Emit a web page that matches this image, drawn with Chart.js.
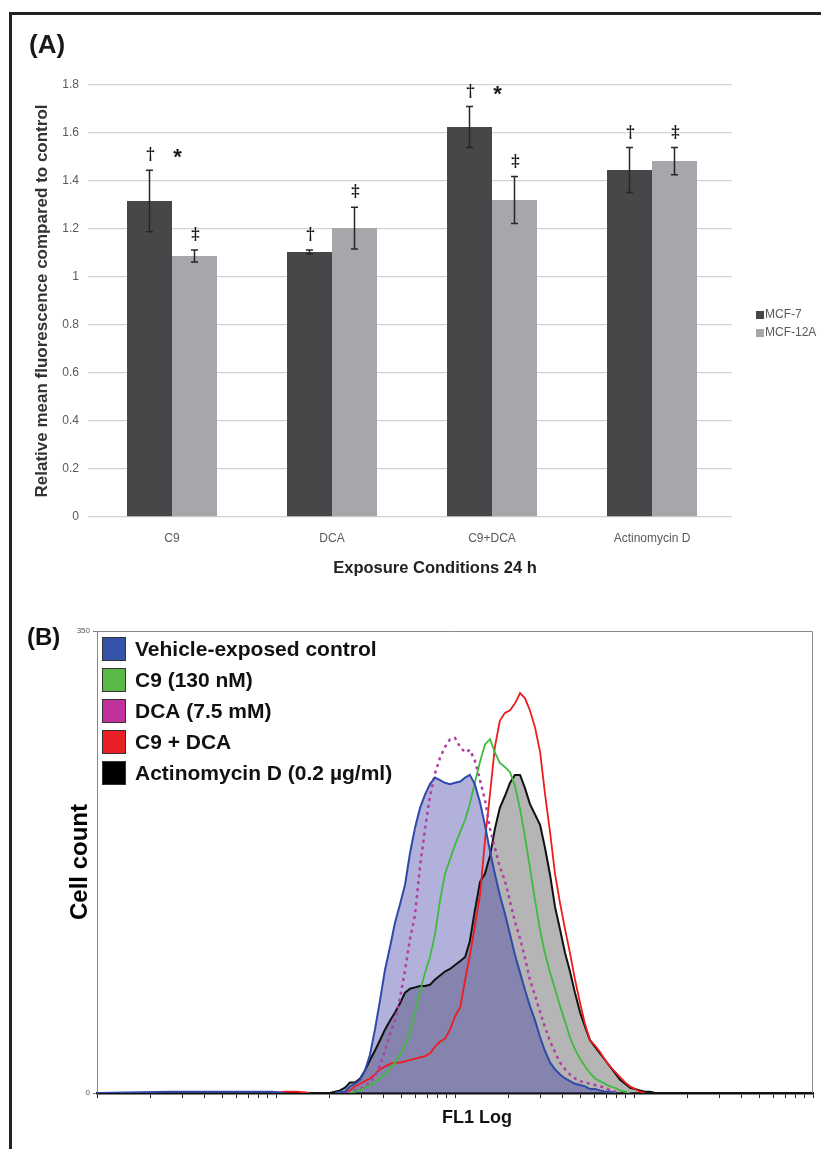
<!DOCTYPE html>
<html>
<head>
<meta charset="utf-8">
<script src="https://cdn.jsdelivr.net/npm/chart.js@4.4.1/dist/chart.umd.min.js"></script>
<style>
    html, body { margin: 0; padding: 0; background: #fff; }
    #page { position: relative; width: 821px; height: 1149px; overflow: hidden; }
    #frame { position: absolute; left: 9px; top: 12px; width: 900px; height: 1200px; border-left: 3px solid #222; border-top: 3px solid #222; }
    #chart-a { position: absolute; left: 0; top: 0; }
    #chart-b { position: absolute; left: 0; top: 600px; }
</style>
</head>
<body>
<div id="page">
    <div id="frame"></div>
    <canvas id="chart-a" width="821" height="600"></canvas>
    <canvas id="chart-b" width="821" height="549"></canvas>
</div>
<script>
// Panel A - relative mean fluorescence after 24 h
const conditions = ['C9', 'DCA', 'C9+DCA', 'Actinomycin D'];
const mcf7 = [1.317, 1.104, 1.625, 1.446];
const mcf7Err = [0.128, 0.008, 0.085, 0.094];
const mcf12a = [1.088, 1.204, 1.321, 1.483];
const mcf12aErr = [0.025, 0.087, 0.098, 0.057];
const mcf7Marks = ['†', '†', '†', '†'];
const mcf12aMarks = ['‡', '‡', '‡', '‡'];
const pairMarks = ['*', '', '*', ''];
const yTicksA = { min: 0, max: 1.8, step: 0.2 };

// Panel B - FL1 histograms (channel value on the log axis, counts per series)
const fl1Channels = [
    1, 2.56, 9.5, 11.2, 13.1, 15.5, 17.6, 20.0, 21.4, 22.8,
    24.3, 25.9, 27.6, 29.5, 31.4, 33.5, 35.7, 38.1, 40.6, 43.4,
    46.2, 49.3, 52.6, 56.1, 59.8, 63.8, 68.0, 72.5, 77.3, 82.5,
    87.9, 93.8, 100, 107, 114, 121, 129, 138, 147, 157,
    167, 178, 190, 203, 216, 231, 246, 262, 280, 299,
    318, 340, 362, 386, 412, 439, 468, 500, 533, 568,
    606, 646, 689, 735, 784, 836, 892, 951, 1014, 1080,
    1152, 1229, 1310, 1398, 2340, 10000
];
const vehicleCounts = [
    0, 1, 1, 0, 0, 0, 0, 0, 0, 1,
    1, 5, 7, 10, 17, 29, 48, 70, 93, 111,
    129, 143, 158, 182, 201, 216, 226, 234, 239, 237,
    235, 234, 235, 236, 239, 241, 234, 220, 203, 183,
    166, 150, 136, 120, 105, 91, 78, 66, 55, 42,
    32, 23, 18, 14, 11, 9, 7, 6, 5, 3,
    3, 2, 1, 1, 0, 0, 0, 0, 0, 0,
    0, 0, 0, 0, 0, 0
];
const c9Counts = [
    0, 0, 0, 0, 0, 0, 0, 0, 0, 0,
    0, 0, 1, 2, 4, 6, 8, 11, 14, 18,
    23, 29, 36, 47, 61, 77, 91, 103, 120, 146,
    166, 177, 188, 198, 207, 219, 235, 251, 264, 268,
    258, 250, 247, 243, 233, 215, 194, 171, 146, 123,
    106, 91, 79, 66, 54, 42, 33, 26, 20, 15,
    11, 9, 7, 5, 4, 2, 1, 0, 0, 0,
    0, 0, 0, 0, 0, 0
];
const dcaCounts = [
    0, 0, 0, 0, 0, 0, 0, 0, 0, 0,
    1, 1, 2, 3, 5, 8, 13, 21, 32, 45,
    55, 72, 93, 117, 135, 172, 200, 225, 242, 254,
    262, 268, 269, 262, 258, 260, 252, 237, 222, 200,
    186, 171, 161, 145, 130, 117, 102, 86, 74, 61,
    50, 39, 31, 23, 18, 14, 11, 9, 8, 7,
    6, 5, 4, 2, 1, 0, 0, 0, 0, 0,
    0, 0, 0, 0, 0, 0
];
const c9DcaCounts = [
    0, 0, 0, 1, 1, 0, 0, 0, 0, 0,
    1, 2, 5, 7, 9, 11, 14, 18, 20, 22,
    23, 23, 24, 25, 26, 27, 28, 30, 35, 39,
    41, 48, 58, 65, 86, 104, 126, 150, 191, 227,
    262, 282, 288, 290, 295, 303, 299, 290, 277, 258,
    227, 197, 166, 144, 124, 106, 86, 68, 52, 40,
    36, 31, 25, 20, 16, 12, 8, 5, 3, 1,
    0, 0, 0, 0, 0, 0
];
const actinomycinCounts = [
    0, 0, 0, 0, 0, 0, 0, 0, 1, 2,
    4, 8, 8, 11, 17, 25, 32, 40, 48, 55,
    61, 68, 76, 79, 80, 81, 81, 82, 86, 89,
    92, 94, 97, 100, 103, 115, 138, 160, 166, 180,
    200, 216, 225, 235, 241, 241, 231, 219, 211, 203,
    186, 165, 141, 124, 106, 92, 76, 61, 50, 40,
    35, 30, 25, 20, 15, 10, 7, 4, 3, 2,
    1, 1, 0, 0, 0, 0
];
const yTicksB = { min: 0, max: 350 };

const FONT = "'Liberation Sans', Arial, sans-serif";
Chart.defaults.font.family = FONT;

// Barras de error y marcas de significancia
const errorBarsPlugin = {
    id: 'errorBars',
    afterDatasetsDraw(chart) {
        const ctx = chart.ctx;
        const y = chart.scales.y;
        const errs = [mcf7Err, mcf12aErr];
        const marks = [mcf7Marks, mcf12aMarks];
        ctx.save();
        ctx.strokeStyle = '#262626';
        ctx.lineWidth = 1.5;
        ctx.fillStyle = '#1a1a1a';
        ctx.textAlign = 'center';
        ctx.textBaseline = 'middle';
        chart.data.datasets.forEach((ds, i) => {
            chart.getDatasetMeta(i).data.forEach((bar, j) => {
                const top = y.getPixelForValue(ds.data[j] + errs[i][j]);
                const bot = y.getPixelForValue(ds.data[j] - errs[i][j]);
                ctx.beginPath();
                ctx.moveTo(bar.x, top);
                ctx.lineTo(bar.x, bot);
                ctx.moveTo(bar.x - 3.5, top);
                ctx.lineTo(bar.x + 3.5, top);
                ctx.moveTo(bar.x - 3.5, bot);
                ctx.lineTo(bar.x + 3.5, bot);
                ctx.stroke();

                ctx.font = "bold 16px 'DejaVu Serif', serif";
                ctx.fillText(marks[i][j], bar.x + 1, top - 15);
                if (i === 0 && pairMarks[j]) {
                    ctx.font = 'bold 22px ' + FONT;
                    ctx.fillText(pairMarks[j], bar.x + 28, top - 12);
                }
            });
        });
        ctx.restore();
    }
};

const panelAPlugin = {
    id: 'panelA',
    afterDraw(chart) {
        const ctx = chart.ctx;
        ctx.save();
        ctx.fillStyle = '#1a1a1a';
        ctx.textBaseline = 'middle';
        ctx.font = 'bold 26px ' + FONT;
        ctx.fillText('(A)', 29, 46);

        ctx.textAlign = 'center';
        ctx.fillStyle = '#222';
        ctx.font = 'bold 16.5px ' + FONT;
        ctx.fillText('Exposure Conditions 24 h', 435, 568);

        // Leyenda
        ctx.textAlign = 'left';
        ctx.font = '12px ' + FONT;
        chart.data.datasets.forEach((ds, i) => {
            const yc = 315 + i * 18;
            ctx.fillStyle = ds.backgroundColor;
            ctx.fillRect(756, yc - 4, 8, 8);
            ctx.fillStyle = '#595959';
            ctx.fillText(ds.label, 765, yc);
        });
        ctx.restore();
    }
};

function crearGraficoBarras() {
    new Chart(document.getElementById('chart-a'), {
        type: 'bar',
        data: {
            labels: conditions,
            datasets: [
                { label: 'MCF-7', data: mcf7, backgroundColor: '#474749', categoryPercentage: 0.5625, barPercentage: 1 },
                { label: 'MCF-12A', data: mcf12a, backgroundColor: '#a6a7aa', categoryPercentage: 0.5625, barPercentage: 1 }
            ]
        },
        options: {
            responsive: false,
            animation: false,
            layout: { padding: { left: 20, right: 89, top: 85, bottom: 43 } },
            plugins: {
                legend: { display: false },
                tooltip: { enabled: false }
            },
            scales: {
                x: {
                    grid: { display: false, drawTicks: false },
                    border: { display: false },
                    ticks: { color: '#595959', font: { size: 12 }, padding: 14 },
                    afterFit: s => { s.height = 40; }
                },
                y: {
                    min: yTicksA.min,
                    max: yTicksA.max,
                    ticks: {
                        stepSize: yTicksA.step,
                        color: '#595959',
                        font: { size: 12 },
                        padding: 9,
                        callback: v => String(+v.toFixed(1))
                    },
                    grid: { color: '#d4d4d4', lineWidth: 1.3, tickLength: 4 },
                    border: { display: false },
                    title: {
                        display: true,
                        text: 'Relative mean fluorescence compared to control',
                        color: '#333',
                        font: { size: 17, weight: 'bold' },
                        padding: { top: 12, bottom: 0 }
                    },
                    afterFit: s => { s.width = 72; }
                }
            }
        },
        plugins: [errorBarsPlugin, panelAPlugin]
    });
}

const panelBPlugin = {
    id: 'panelB',
    afterDraw(chart) {
        const ctx = chart.ctx;
        const a = chart.chartArea;
        ctx.save();
        ctx.strokeStyle = '#8a8a8a';
        ctx.lineWidth = 1;
        ctx.beginPath();
        ctx.moveTo(a.left, a.top + 0.5);
        ctx.lineTo(a.right - 0.5, a.top + 0.5);
        ctx.lineTo(a.right - 0.5, a.bottom);
        ctx.stroke();

        ctx.fillStyle = '#111';
        ctx.textBaseline = 'middle';
        ctx.font = 'bold 24px ' + FONT;
        ctx.fillText('(B)', 27, 38);

        ctx.textAlign = 'center';
        ctx.font = 'bold 18px ' + FONT;
        ctx.fillText('FL1 Log', 477, 518);

        // Leyenda con cuadros de color
        ctx.textAlign = 'left';
        ctx.font = 'bold 21px ' + FONT;
        chart.data.datasets.forEach((ds, i) => {
            const top = a.top + 6 + i * 31;
            ctx.fillStyle = ds.swatch;
            ctx.fillRect(a.left + 5, top, 24, 24);
            ctx.strokeStyle = '#333';
            ctx.strokeRect(a.left + 5.5, top + 0.5, 23, 23);
            ctx.fillStyle = '#111';
            ctx.fillText(ds.label, a.left + 38, top + 13);
        });
        ctx.restore();
    }
};

function serie(counts) {
    return fl1Channels.map((x, i) => ({ x: x, y: counts[i] }));
}

// Los tramos planos en cero quedan bajo la línea negra del eje
const ocultarCero = {
    borderColor: ctx => (ctx.p0.parsed.y === 0 && ctx.p1.parsed.y === 0) ? 'rgba(0,0,0,0)' : undefined
};

function crearHistograma() {
    new Chart(document.getElementById('chart-b'), {
        type: 'line',
        data: {
            datasets: [
                { label: 'Vehicle-exposed control', data: serie(vehicleCounts), borderColor: '#2f4aa8', swatch: '#3553a8', borderWidth: 2, fill: 'origin', backgroundColor: 'rgba(60, 60, 165, 0.4)', segment: ocultarCero },
                { label: 'C9 (130 nM)', data: serie(c9Counts), borderColor: '#3dbb3d', swatch: '#58b947', borderWidth: 1.8, fill: false, segment: ocultarCero },
                { label: 'DCA (7.5 mM)', data: serie(dcaCounts), borderColor: '#b13ea4', swatch: '#c2309a', borderWidth: 2.5, borderDash: [3, 4], fill: false, segment: ocultarCero },
                { label: 'C9 + DCA', data: serie(c9DcaCounts), borderColor: '#ee1c1c', swatch: '#ea2027', borderWidth: 1.8, fill: false, segment: ocultarCero },
                { label: 'Actinomycin D (0.2 µg/ml)', data: serie(actinomycinCounts), borderColor: '#111', swatch: '#000', borderWidth: 2, fill: 'origin', backgroundColor: 'rgba(90, 90, 90, 0.45)' }
            ]
        },
        options: {
            responsive: false,
            animation: false,
            layout: { padding: { left: 40, right: 8, top: 31, bottom: 26 } },
            elements: { point: { radius: 0 }, line: { tension: 0 } },
            plugins: {
                legend: { display: false },
                tooltip: { enabled: false },
                filler: { drawTime: 'beforeDatasetsDraw' }
            },
            scales: {
                x: {
                    type: 'logarithmic',
                    min: 1,
                    max: 10000,
                    afterBuildTicks: scale => {
                        const t = [];
                        for (let d = 1; d < 10000; d *= 10) {
                            for (let k = 1; k < 10; k++) t.push({ value: k * d });
                        }
                        t.push({ value: 10000 });
                        scale.ticks = t;
                    },
                    ticks: { display: false },
                    grid: { drawOnChartArea: false, drawTicks: true, tickLength: 5, color: '#222', lineWidth: 1 },
                    border: { color: '#111', width: 2.5 },
                    afterFit: s => { s.height = 30; }
                },
                y: {
                    min: yTicksB.min,
                    max: yTicksB.max,
                    ticks: { stepSize: yTicksB.max, color: '#555', font: { size: 8 }, padding: 3 },
                    grid: { drawOnChartArea: false, tickLength: 4, color: '#777' },
                    border: { color: '#888', width: 1 },
                    title: {
                        display: true,
                        text: 'Cell count',
                        color: '#000',
                        font: { size: 24, weight: 'bold' },
                        padding: { top: 26, bottom: 0 }
                    },
                    afterFit: s => { s.width = 57; }
                }
            }
        },
        plugins: [panelBPlugin]
    });
}

document.addEventListener('DOMContentLoaded', function () {
    crearGraficoBarras();
    crearHistograma();
});
</script>
</body>
</html>
